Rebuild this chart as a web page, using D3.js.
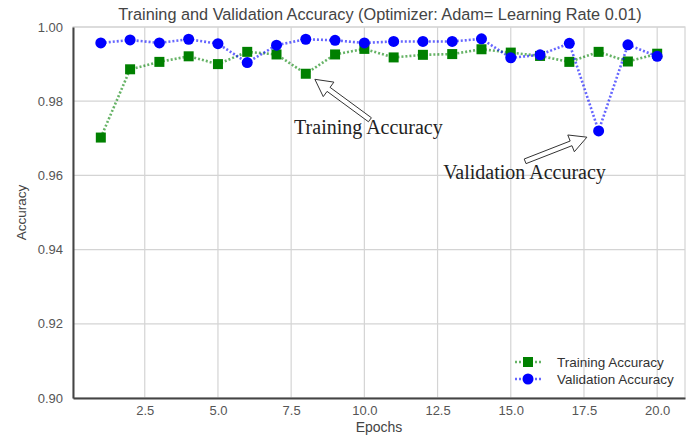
<!DOCTYPE html>
<html>
<head>
<meta charset="utf-8">
<script src="https://cdn.jsdelivr.net/npm/d3@7"></script>
<style>
  body { margin: 0; background: #fff; }
  text { font-family: "Liberation Sans", Arial, sans-serif; }
</style>
</head>
<body>
<div id="chart"></div>
<script>
const epochs = d3.range(1, 21);
const trainAcc = [0.9702, 0.9886, 0.9906, 0.9921, 0.9900, 0.9933, 0.9926, 0.9874, 0.9926, 0.9941,
                  0.9918, 0.9925, 0.9927, 0.9940, 0.9931, 0.9922, 0.9906, 0.9933, 0.9907, 0.9928];
const valAcc = [0.9957, 0.9965, 0.9957, 0.9967, 0.9955, 0.9904, 0.9951, 0.9967, 0.9964, 0.9957,
                0.9961, 0.9961, 0.9961, 0.9968, 0.9917, 0.9925, 0.9956, 0.9720, 0.9952, 0.9921];
const xTicks = [2.5, 5.0, 7.5, 10.0, 12.5, 15.0, 17.5, 20.0];
const yTicks = [0.90, 0.92, 0.94, 0.96, 0.98, 1.00];
const titleText = 'Training and Validation Accuracy (Optimizer: Adam= Learning Rate 0.01)';
const seriesNames = ['Training Accuracy', 'Validation Accuracy'];
// annotations in data units: text anchor, arrow tail, arrow tip
const notes = [
  {label: 'Training Accuracy', tx: 7.6, ty: 0.9712, from: [10.19, 0.9750], to: [8.31, 0.9859]},
  {label: 'Validation Accuracy', tx: 12.69, ty: 0.9589, from: [15.49, 0.9638], to: [17.6, 0.9703]}
];

const width = 690, height = 436;
const margin = {top: 27, right: 5, bottom: 38, left: 73};

const svg = d3.select('#chart').append('svg')
    .attr('width', width)
    .attr('height', height);

const x = d3.scaleLinear()
    .domain([0.05, 20.95])
    .range([margin.left, width - margin.right]);

const y = d3.scaleLinear()
    .domain([0.90, 1.00])
    .range([height - margin.bottom, margin.top]);

// grid
svg.append('g')
    .attr('stroke', '#d4d4d4')
    .attr('stroke-width', 1.2)
  .selectAll('line.gx')
  .data(xTicks)
  .join('line')
    .attr('x1', d => x(d)).attr('x2', d => x(d))
    .attr('y1', y(0.90)).attr('y2', y(1.00));

svg.append('g')
    .attr('stroke', '#d4d4d4')
    .attr('stroke-width', 1.2)
  .selectAll('line.gy')
  .data(yTicks)
  .join('line')
    .attr('x1', x.range()[0]).attr('x2', x.range()[1])
    .attr('y1', d => y(d)).attr('y2', d => y(d));

// light frame top / right
svg.append('rect')
    .attr('x', x.range()[0]).attr('y', y(1.00))
    .attr('width', x.range()[1] - x.range()[0])
    .attr('height', y(0.90) - y(1.00))
    .attr('fill', 'none')
    .attr('stroke', '#d4d4d4')
    .attr('stroke-width', 1.2);

// axes
const xAxis = svg.append('g')
    .attr('transform', `translate(0,${y(0.90)})`)
    .call(d3.axisBottom(x).tickValues(xTicks).tickFormat(d3.format('.1f')).tickSize(0).tickPadding(8));
const yAxis = svg.append('g')
    .attr('transform', `translate(${x(0.05)},0)`)
    .call(d3.axisLeft(y).tickValues(yTicks).tickFormat(d3.format('.2f')).tickSize(0).tickPadding(10));

[xAxis, yAxis].forEach(g => {
  g.select('.domain').attr('stroke', '#444').attr('stroke-width', 2);
  g.selectAll('text').attr('fill', '#555').style('font-size', '13px')
    .style('font-family', '"Liberation Sans", Arial, sans-serif');
});

// series
const series = [
  {name: seriesNames[0], values: trainAcc, color: '#008000', shape: 'square'},
  {name: seriesNames[1], values: valAcc, color: '#0000ff', shape: 'circle'}
];

const line = d3.line().x((d, i) => x(epochs[i])).y(d => y(d));

series.forEach(s => {
  svg.append('path')
      .datum(s.values)
      .attr('fill', 'none')
      .attr('stroke', s.color)
      .attr('stroke-opacity', 0.6)
      .attr('stroke-width', 2.6)
      .attr('stroke-dasharray', '2,2')
      .attr('d', line);
  const g = svg.append('g').attr('fill', s.color);
  if (s.shape === 'square') {
    g.selectAll('rect').data(s.values).join('rect')
        .attr('x', (d, i) => x(epochs[i]) - 5)
        .attr('y', d => y(d) - 5)
        .attr('width', 10).attr('height', 10);
  } else {
    g.selectAll('circle').data(s.values).join('circle')
        .attr('cx', (d, i) => x(epochs[i]))
        .attr('cy', d => y(d))
        .attr('r', 5.5);
  }
});

// hollow arrows + labels
function arrowPath(p0, p1) {
  const dx = p1[0] - p0[0], dy = p1[1] - p0[1];
  const len = Math.hypot(dx, dy);
  const ux = dx / len, uy = dy / len, nx = -uy, ny = ux;
  const sw = 2.5, hw = 9, hl = 17;
  const bx = p1[0] - ux * hl, by = p1[1] - uy * hl;
  const pts = [
    [p0[0] + nx * sw, p0[1] + ny * sw],
    [bx + nx * sw, by + ny * sw],
    [bx + nx * hw, by + ny * hw],
    p1,
    [bx - nx * hw, by - ny * hw],
    [bx - nx * sw, by - ny * sw],
    [p0[0] - nx * sw, p0[1] - ny * sw]
  ];
  return 'M' + pts.map(p => p.join(',')).join('L') + 'Z';
}

notes.forEach(n => {
  svg.append('path')
      .attr('d', arrowPath([x(n.from[0]), y(n.from[1])], [x(n.to[0]), y(n.to[1])]))
      .attr('fill', '#fff')
      .attr('stroke', '#333')
      .attr('stroke-width', 1);
  svg.append('text')
      .attr('x', x(n.tx))
      .attr('y', y(n.ty))
      .attr('fill', '#222')
      .style('font-family', '"Liberation Serif", "Times New Roman", serif')
      .style('font-size', '20px')
      .text(n.label);
});

// legend
const legend = svg.append('g');
series.forEach((s, i) => {
  const ly = 362 + i * 17;
  const row = legend.append('g').attr('transform', `translate(515,${ly})`);
  row.append('line')
      .attr('x1', 0).attr('x2', 26)
      .attr('stroke', s.color).attr('stroke-opacity', 0.6)
      .attr('stroke-width', 2.6).attr('stroke-dasharray', '2,2');
  if (s.shape === 'square') {
    row.append('rect').attr('x', 8).attr('y', -5).attr('width', 10).attr('height', 10).attr('fill', s.color);
  } else {
    row.append('circle').attr('cx', 13).attr('r', 5.5).attr('fill', s.color);
  }
  row.append('text')
      .attr('x', 42).attr('dy', '0.35em')
      .attr('fill', '#333')
      .style('font-size', '13.5px')
      .text(s.name);
});

// titles
svg.append('text')
    .attr('x', 380)
    .attr('y', 20)
    .attr('text-anchor', 'middle')
    .attr('fill', '#444')
    .style('font-size', '16.3px')
    .text(titleText);

svg.append('text')
    .attr('x', (x.range()[0] + x.range()[1]) / 2)
    .attr('y', 432)
    .attr('text-anchor', 'middle')
    .attr('fill', '#444')
    .style('font-size', '14px')
    .text('Epochs');

svg.append('text')
    .attr('transform', `translate(26,${(y(0.9) + y(1)) / 2}) rotate(-90)`)
    .attr('text-anchor', 'middle')
    .attr('fill', '#444')
    .style('font-size', '13.5px')
    .text('Accuracy');
</script>
</body>
</html>
